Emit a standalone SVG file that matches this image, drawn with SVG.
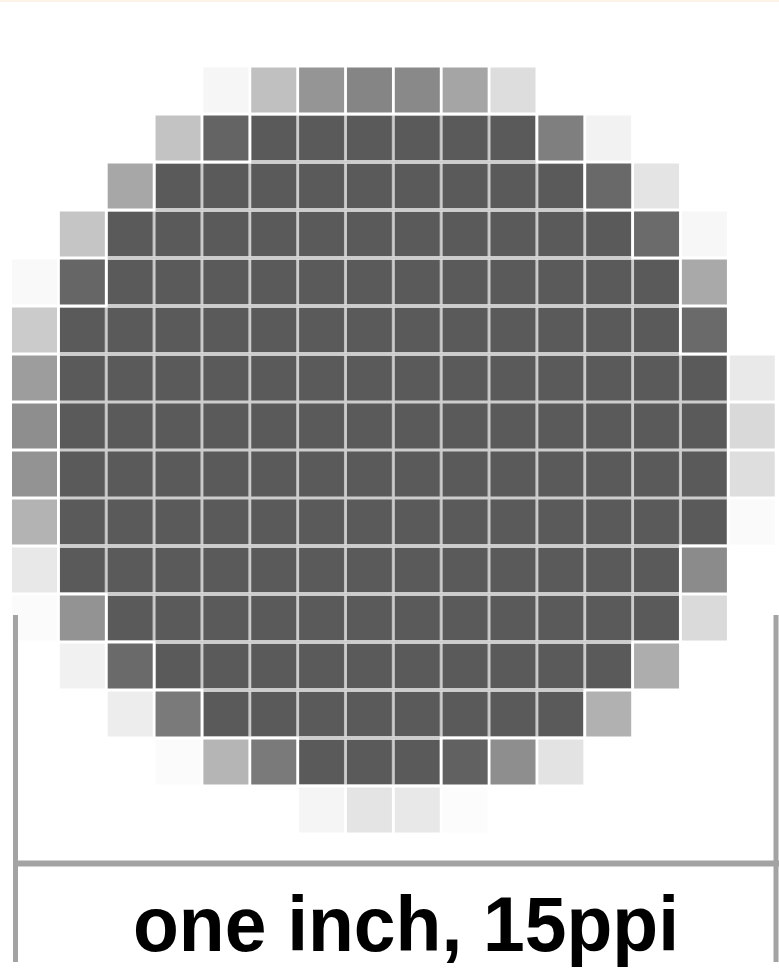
<svg xmlns="http://www.w3.org/2000/svg" width="779" height="968" viewBox="0 0 779 968">
<style>
  .c { width: 45px; height: 45px; }
  .rule { stroke: #a3a3a3; fill: none; }
  .lbl { font-family: "Liberation Sans", Arial, sans-serif; font-weight: bold; font-size: 77px; fill: #000; }
</style>
<defs>
  <pattern id="dk" x="12" y="67.5" width="47.85" height="48" patternUnits="userSpaceOnUse">
    <rect width="47.85" height="48" fill="#cdcdcd"/>
    <rect width="45" height="45" fill="#5a5a5a"/>
  </pattern>
</defs>
<rect width="779" height="968" fill="#ffffff"/>
<rect width="779" height="2" fill="#fdf4e8"/>
<g id="pixel-grid">
  <g id="dark" fill="url(#dk)">
    <rect x="251.25" y="115.5" width="284.25" height="45"/>
    <rect x="155.55" y="163.5" width="427.8" height="45"/>
    <rect x="107.7" y="211.5" width="523.5" height="45"/>
    <rect x="107.7" y="259.5" width="571.35" height="45"/>
    <rect x="59.85" y="307.5" width="619.2" height="45"/>
    <rect x="59.85" y="355.5" width="667.05" height="189"/>
    <rect x="59.85" y="547.5" width="619.2" height="45"/>
    <rect x="107.7" y="595.5" width="571.35" height="45"/>
    <rect x="155.55" y="643.5" width="475.65" height="45"/>
    <rect x="203.4" y="691.5" width="379.95" height="45"/>
    <rect x="299.1" y="739.5" width="140.7" height="45"/>
  </g>
  <g id="dark-joins" fill="#cdcdcd">
    <rect x="251.25" y="160.5" width="284.25" height="3"/>
    <rect x="155.55" y="208.5" width="427.8" height="3"/>
    <rect x="107.7" y="256.5" width="523.5" height="3"/>
    <rect x="107.7" y="304.5" width="571.35" height="3"/>
    <rect x="59.85" y="352.5" width="619.2" height="3"/>
    <rect x="59.85" y="544.5" width="619.2" height="3"/>
    <rect x="107.7" y="592.5" width="571.35" height="3"/>
    <rect x="155.55" y="640.5" width="475.65" height="3"/>
    <rect x="203.4" y="688.5" width="379.95" height="3"/>
    <rect x="299.1" y="736.5" width="140.7" height="3"/>
  </g>
  <g id="edge">
    <rect class="c" x="203.4" y="67.5" fill="#f6f6f6"/>
    <rect class="c" x="251.25" y="67.5" fill="#c0c0c0"/>
    <rect class="c" x="299.1" y="67.5" fill="#959595"/>
    <rect class="c" x="346.95" y="67.5" fill="#858585"/>
    <rect class="c" x="394.8" y="67.5" fill="#898989"/>
    <rect class="c" x="442.65" y="67.5" fill="#a5a5a5"/>
    <rect class="c" x="490.5" y="67.5" fill="#dddddd"/>
    <rect class="c" x="155.55" y="115.5" fill="#c3c3c3"/>
    <rect class="c" x="203.4" y="115.5" fill="#646464"/>
    <rect class="c" x="538.35" y="115.5" fill="#7f7f7f"/>
    <rect class="c" x="586.2" y="115.5" fill="#f2f2f2"/>
    <rect class="c" x="107.7" y="163.5" fill="#a7a7a7"/>
    <rect class="c" x="586.2" y="163.5" fill="#696969"/>
    <rect class="c" x="634.05" y="163.5" fill="#e4e4e4"/>
    <rect class="c" x="59.85" y="211.5" fill="#c5c5c5"/>
    <rect class="c" x="634.05" y="211.5" fill="#6b6b6b"/>
    <rect class="c" x="681.9" y="211.5" fill="#f7f7f7"/>
    <rect class="c" x="12" y="259.5" fill="#f9f9f9"/>
    <rect class="c" x="59.85" y="259.5" fill="#666666"/>
    <rect class="c" x="681.9" y="259.5" fill="#a9a9a9"/>
    <rect class="c" x="12" y="307.5" fill="#cbcbcb"/>
    <rect class="c" x="681.9" y="307.5" fill="#6a6a6a"/>
    <rect class="c" x="12" y="355.5" fill="#9d9d9d"/>
    <rect class="c" x="729.75" y="355.5" fill="#e9e9e9"/>
    <rect class="c" x="12" y="403.5" fill="#8e8e8e"/>
    <rect class="c" x="729.75" y="403.5" fill="#d9d9d9"/>
    <rect class="c" x="12" y="451.5" fill="#939393"/>
    <rect class="c" x="729.75" y="451.5" fill="#dedede"/>
    <rect class="c" x="12" y="499.5" fill="#b3b3b3"/>
    <rect class="c" x="729.75" y="499.5" fill="#fafafa"/>
    <rect class="c" x="12" y="547.5" fill="#e8e8e8"/>
    <rect class="c" x="681.9" y="547.5" fill="#8b8b8b"/>
    <rect class="c" x="12" y="595.5" fill="#fbfbfb"/>
    <rect class="c" x="59.85" y="595.5" fill="#939393"/>
    <rect class="c" x="681.9" y="595.5" fill="#dadada"/>
    <rect class="c" x="59.85" y="643.5" fill="#f1f1f1"/>
    <rect class="c" x="107.7" y="643.5" fill="#6a6a6a"/>
    <rect class="c" x="634.05" y="643.5" fill="#adadad"/>
    <rect class="c" x="107.7" y="691.5" fill="#ededed"/>
    <rect class="c" x="155.55" y="691.5" fill="#7a7a7a"/>
    <rect class="c" x="586.2" y="691.5" fill="#b1b1b1"/>
    <rect class="c" x="155.55" y="739.5" fill="#fbfbfb"/>
    <rect class="c" x="203.4" y="739.5" fill="#b5b5b5"/>
    <rect class="c" x="251.25" y="739.5" fill="#7a7a7a"/>
    <rect class="c" x="442.65" y="739.5" fill="#616161"/>
    <rect class="c" x="490.5" y="739.5" fill="#8e8e8e"/>
    <rect class="c" x="538.35" y="739.5" fill="#e3e3e3"/>
    <rect class="c" x="299.1" y="787.5" fill="#f5f5f5"/>
    <rect class="c" x="346.95" y="787.5" fill="#e4e4e4"/>
    <rect class="c" x="394.8" y="787.5" fill="#e8e8e8"/>
    <rect class="c" x="442.65" y="787.5" fill="#fcfcfc"/>
  </g>
</g>
<g id="inch-bracket">
  <line class="rule" x1="15.5" y1="615" x2="15.5" y2="962" stroke-width="5"/>
  <line class="rule" x1="776" y1="615" x2="776" y2="962" stroke-width="5"/>
  <line class="rule" x1="15" y1="863.5" x2="779" y2="863.5" stroke-width="6"/>
</g>
<text id="label" class="lbl" x="133" y="951" textLength="546" lengthAdjust="spacingAndGlyphs">one inch, 15ppi</text>
</svg>
